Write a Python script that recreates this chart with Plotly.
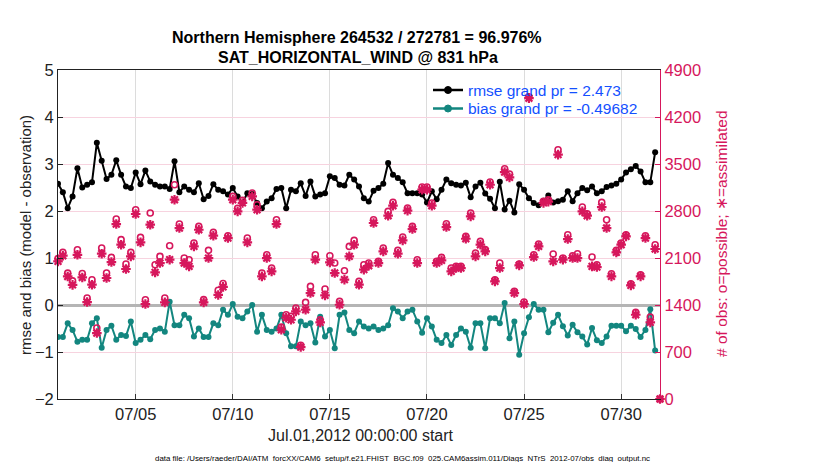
import plotly.graph_objects as go
import pandas as pd

# ---- data (6-hourly bins starting Jul 01 2012 00:00) ----
rmse = [2.58, 2.40, 2.06, 2.31, 2.91, 2.50, 2.56, 2.61, 3.45, 3.07,
        2.68, 2.77, 3.08, 2.77, 2.52, 2.49, 2.82, 2.57, 2.86, 2.63,
        2.56, 2.52, 2.52, 2.47, 3.06, 2.40, 2.52, 2.45, 2.40, 2.59,
        2.25, 2.32, 2.57, 2.45, 2.42, 2.35, 2.49, 2.31, 2.17, 2.38,
        2.36, 2.17, 2.06, 2.20, 2.27, 2.47, 2.49, 2.06, 2.45, 2.42,
        2.59, 2.32, 2.63, 2.31, 2.35, 2.38, 2.74, 2.70, 2.56, 2.54,
        2.77, 2.67, 2.52, 2.27, 2.20, 2.43, 2.49, 2.58, 3.02, 2.77,
        2.70, 2.61, 2.38, 2.38, 2.38, 2.35, 2.18, 2.42, 2.25, 2.45,
        2.67, 2.59, 2.56, 2.54, 2.60, 2.29, 2.52, 2.60, 2.37, 2.26,
        2.06, 2.62, 2.03, 2.22, 1.97, 2.57, 2.45, 2.27, 2.17, 2.12,
        2.22, 2.33, 2.18, 2.21, 2.24, 2.42, 2.21, 2.38, 2.49, 2.44,
        2.52, 2.38, 2.42, 2.51, 2.54, 2.58, 2.67, 2.82, 2.89, 2.96,
        2.84, 2.61, 2.61, 3.25]

bias = [-0.68, -0.68, -0.39, -0.53, -0.78, -0.74, -0.74, -0.39, -0.28, -0.91,
        -0.53, -0.44, -0.74, -0.64, -0.66, -0.35, -0.81, -0.74, -0.64, -0.73,
        -0.53, -0.50, -0.57, 0.07, -0.43, -0.43, -0.21, -0.28, -0.67, -0.50,
        -0.68, -0.68, -0.39, -0.43, -0.10, -0.21, 0.02, -0.25, -0.28, -0.14,
        0.00, -0.57, -0.21, -0.53, -0.57, -0.50, -0.21, -0.60, -0.88, -0.88,
        -0.35, -0.43, -0.39, -0.80, -0.25, -0.67, -0.53, -0.92, -0.21, -0.16,
        -0.53, -0.60, -0.35, -0.46, -0.50, -0.46, -0.53, -0.50, -0.43, -0.07,
        -0.14, -0.28, -0.14, -0.10, -0.35, -0.59, -0.28, -0.46, -0.74, -0.81,
        -0.64, -0.85, -0.64, -0.50, -0.57, -0.91, -0.39, -0.39, -0.92, -0.28,
        -0.28, -0.39, 0.04, -0.71, -0.35, -1.06, -0.60, -0.26, 0.02, -0.10,
        -0.10, -0.58, -0.38, -0.21, -0.45, -0.65, -0.42, -0.58, -0.67, -0.84,
        -0.49, -0.75, -0.81, -0.67, -0.44, -0.44, -0.44, -0.56, -0.44, -0.51,
        -0.68, -0.53, -0.09, -0.97]

n_possible = [2090, 2184, 1875, 1760, 2222, 1870, 1504, 1777, 1057, 2248,
              1876, 2109, 2680, 2373, 2010, 2184, 2819, 2407, 1479, 2770,
              2000, 2124, 1504, 2283, 3192, 2606, 2099, 2075, 2323, 2571,
              1480, 2214, 2482, 1620, 1720, 2432, 3018, 2840, 2960, 2397,
              3068, 2894, 1876, 2149, 1950, 2670, 1070, 1255, 1230, 1355,
              800, 1439, 1677, 2149, 1180, 1638, 2134, 2025, 1454, 1911,
              2273, 2363, 1752, 2000, 2025, 2670, 2050, 2248, 2795, 2929,
              2214, 2412, 2844, 2571, 2075, 3157, 3157, 2919, 2050, 2109,
              2611, 1950, 1975, 1975, 2422, 2770, 2174, 2348, 2224, 3231,
              1776, 2025, 3430, 3350, 1603, 2010, 1444, 4500, 2149, 2308,
              2943, 2968, 2159, 3713, 2100, 2447, 2134, 2164, 2859, 2760,
              2115, 2000, 2929, 2670, 1866, 2214, 2323, 2447, 1717, 1290,
              1851, 2432, 1220, 2298, 0]

n_assim = [2050, 2134, 1825, 1700, 2148, 1810, 1444, 1702, 982, 2164,
           1802, 2040, 2606, 2298, 1936, 2124, 2755, 2333, 1414, 2596,
           1886, 2025, 1439, 2075, 2968, 2546, 2025, 1975, 2273, 2521,
           1439, 2099, 2432, 1550, 1670, 2397, 2968, 2795, 2920, 2333,
           3018, 2819, 1826, 2099, 1901, 2606, 1032, 1210, 1180, 1305,
           774, 1330, 1578, 2075, 1141, 1543, 2035, 1876, 1404, 1777,
           2124, 2298, 1702, 1926, 1985, 2621, 2025, 2199, 2730, 2879,
           2164, 2363, 2805, 2531, 2025, 3117, 3117, 2879, 2025, 2065,
           2561, 1901, 1950, 1950, 2387, 2720, 2124, 2298, 2199, 3191,
           1752, 1950, 3380, 3300, 1578, 1990, 1414, 4480, 2114, 2273,
           2920, 2940, 2050, 3639, 2075, 2382, 2099, 2099, 2795, 2730,
           1975, 1965, 2859, 2546, 1826, 2184, 2298, 2422, 1692, 1255,
           1826, 2397, 1141, 2234, 0]

tick_dates = ["2012-07-05", "2012-07-10", "2012-07-15", "2012-07-20", "2012-07-25", "2012-07-30"]
tick_labels = ["07/05", "07/10", "07/15", "07/20", "07/25", "07/30"]
left_ticks = [-2, -1, 0, 1, 2, 3, 4, 5]
right_ticks = [0, 700, 1400, 2100, 2800, 3500, 4200, 4900]
legend_labels = ["rmse grand pr = 2.473", "bias grand pr = -0.49682"]

times = pd.date_range("2012-07-01 00:00", periods=len(rmse), freq="6h")
count_times = pd.date_range("2012-07-01 00:00", periods=len(n_possible), freq="6h")

BLACK = "#000000"
TEAL = "#13867f"
MAG = "#d6175c"
BLUE = "#1450ff"
FONT = "Liberation Sans"

# page has an 8px body margin; plot area in window px: x 58..660, y 70..399
OFF = 8
PL, PR, PT, PB = 58, 660, 70, 399
W, H = 830 - 2 * OFF, 470 - 2 * OFF
PW, PH = PR - PL, PB - PT


def px(xw):
    return (xw - PL) / PW


def py(yw):
    return 1 - (yw - PT) / PH


fig = go.Figure()

fig.add_trace(go.Scatter(
    x=count_times, y=n_possible, yaxis="y2", mode="markers", showlegend=False,
    cliponaxis=False,
    marker=dict(symbol="circle-open", size=6, color=MAG, line=dict(width=1.6, color=MAG))))
fig.add_trace(go.Scatter(
    x=count_times, y=n_assim, yaxis="y2", mode="markers", showlegend=False,
    cliponaxis=False,
    marker=dict(symbol="asterisk-open", size=8, color=MAG, line=dict(width=2.2, color=MAG))))

fig.add_trace(go.Scatter(
    x=times, y=rmse, mode="lines+markers", name=legend_labels[0], showlegend=False,
    line=dict(color=BLACK, width=2), marker=dict(symbol="circle", size=6, color=BLACK)))
fig.add_trace(go.Scatter(
    x=times, y=bias, mode="lines+markers", name=legend_labels[1], showlegend=False,
    line=dict(color=TEAL, width=2), marker=dict(symbol="circle", size=6, color=TEAL)))

fig.update_layout(
    width=W, height=H,
    margin=dict(l=PL - OFF, r=W - (PR - OFF), t=PT - OFF, b=H - (PB - OFF), autoexpand=False),
    paper_bgcolor="white", plot_bgcolor="white",
    font=dict(family=FONT, size=15, color="black"),
    showlegend=False,
    xaxis=dict(
        type="date", range=["2012-07-01 00:00", "2012-08-01 00:00"],
        tickvals=tick_dates, ticktext=tick_labels, ticks="inside", ticklen=5,
        tickcolor="#333333", showgrid=True, gridcolor="#dcdcdc", gridwidth=1,
        showline=True, linecolor="#222222", linewidth=1, mirror=True, automargin=False,
        tickfont=dict(size=16.5, family=FONT, color="#222222"), zeroline=False),
    yaxis=dict(
        range=[-2, 5], tickvals=left_ticks, ticks="inside", ticklen=5, tickcolor="#222222",
        showgrid=True, gridcolor="#f7d3df", gridwidth=1, automargin=False,
        zeroline=True, zerolinecolor="#b5b5b5", zerolinewidth=2.5,
        showline=True, linecolor="#222222", linewidth=1,
        tickfont=dict(size=16.5, family=FONT, color="#222222")),
    yaxis2=dict(
        range=[0, 4900], tickvals=right_ticks, overlaying="y", side="right",
        ticks="inside", ticklen=5, tickcolor=MAG, showgrid=False, zeroline=False,
        showline=True, linecolor=MAG, linewidth=1.2, automargin=False,
        tickfont=dict(size=16.5, family=FONT, color=MAG)),
)

# title (two bold lines)
fig.add_annotation(text="<b>Northern Hemisphere 264532 / 272781 = 96.976%</b>",
                   xref="paper", yref="paper", x=px(357), y=1, yshift=PT - 37,
                   xanchor="center", yanchor="middle", showarrow=False,
                   font=dict(size=16, family=FONT, color="black"))
fig.add_annotation(text="<b>SAT_HORIZONTAL_WIND @ 831 hPa</b>",
                   xref="paper", yref="paper", x=px(358), y=1, yshift=PT - 57,
                   xanchor="center", yanchor="middle", showarrow=False,
                   font=dict(size=16, family=FONT, color="black"))

# legend drawn by hand (MATLAB-style, no box)
legend_colors = [BLACK, TEAL]
legend_rows = [90, 108.5]
for lab, col, yw in zip(legend_labels, legend_colors, legend_rows):
    fig.add_shape(type="line", xref="paper", yref="paper", x0=px(433), x1=px(463),
                  y0=py(yw), y1=py(yw), line=dict(color=col, width=2.5))
    fig.add_shape(type="circle", xref="paper", yref="paper", xsizemode="pixel",
                  ysizemode="pixel", xanchor=px(448), yanchor=py(yw),
                  x0=-3.5, x1=3.5, y0=-3.5, y1=3.5, fillcolor=col, line=dict(color=col, width=1))
    fig.add_annotation(text=lab, xref="paper", yref="paper", x=px(466), y=py(yw),
                       xanchor="left", yanchor="middle", showarrow=False,
                       font=dict(size=15.5, family=FONT, color=BLUE))

fig.add_annotation(
    text="Jul.01,2012 00:00:00 start", xref="paper", yref="paper", x=px(361), y=0,
    yshift=-(435 - PB), xanchor="center", yanchor="middle", showarrow=False,
    font=dict(size=16, family=FONT, color="#222222"))
fig.add_annotation(
    text="data file: /Users/raeder/DAI/ATM_forcXX/CAM6_setup/f.e21.FHIST_BGC.f09_025.CAM6assim.011/Diags_NTrS_2012-07/obs_diag_output.nc",
    xref="paper", yref="paper", x=px(402), y=0, yshift=-(458 - PB),
    xanchor="center", yanchor="middle", showarrow=False,
    font=dict(size=7.9, family=FONT, color="black"))
fig.add_annotation(
    text="rmse and bias (model - observation)", xref="paper", yref="paper",
    x=0, xshift=25 - PL, y=py(235), textangle=-90, xanchor="center", yanchor="middle",
    showarrow=False, font=dict(size=15, family=FONT, color="#222222"))
fig.add_annotation(
    text="# of obs: o=possible; \u2217=assimilated", xref="paper", yref="paper",
    x=1, xshift=721 - PR, y=py(234), textangle=-90, xanchor="center", yanchor="middle",
    showarrow=False, font=dict(size=15.5, family=FONT, color=MAG))

fig.write_html("out.html")
